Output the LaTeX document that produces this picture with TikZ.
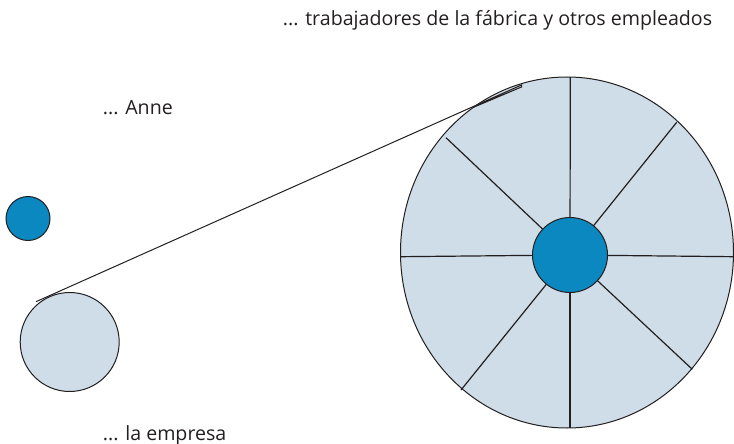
\documentclass[tikz,border=0pt]{standalone}
\usepackage{fontspec}
\setmainfont{Open Sans}
\usetikzlibrary{shapes.geometric}
\definecolor{darkblue}{HTML}{0A88BF}
\definecolor{lightblue}{HTML}{CEDDE7}
\definecolor{edge}{HTML}{231F20}
\tikzset{
  disc/.style={circle, draw=edge, line width=1pt, inner sep=0pt, fill=darkblue},
  lightdisc/.style={circle, draw=edge, line width=1pt, inner sep=0pt, fill=lightblue},
  spoke/.style={draw=edge, line width=1.2pt},
  label/.style={anchor=base west, inner sep=0pt, font=\fontsize{19.6}{23}\selectfont, text=edge},
  connector/.style={draw=edge, line width=1pt}
}
\begin{document}
\begin{tikzpicture}[x=1pt,y=-1pt]
\useasboundingbox (0,0) rectangle (734,444);
% labels
\node[label] (ttop) at (282.7,25.7) {... trabajadores de la fábrica y otros empleados};
\node[label] (tanne) at (102.7,114.5) {... Anne};
\node[label] (temp) at (102.7,440.5) {... la empresa};
% small discs
\node[disc, minimum size=44pt] (anne) at (28,218.5) {};
\node[lightdisc, minimum size=99pt] (empresa) at (69.7,342) {};
% big wheel
\node[ellipse, draw=edge, line width=1pt, fill=lightblue, inner sep=0pt,
      minimum width=333pt, minimum height=351pt] (wheel) at (567,252.5) {};
\coordinate (hc) at (570,255);
\coordinate (s1) at (570.3,77);
\coordinate (s2) at (676.7,122.3);
\coordinate (s3) at (734,256.7);
\coordinate (s4) at (692.3,369.3);
\coordinate (s5) at (570,428);
\coordinate (s6) at (461,390);
\coordinate (s7) at (400.7,256.7);
\coordinate (s8) at (446,137.7);
\foreach \s in {s1,s2,s3,s4,s5,s6,s7,s8} { \path[spoke] (hc) -- (\s); }
\node[disc, minimum size=75pt] (hub) at (hc) {};
% connector
\coordinate (c1) at (36,301.7);
\coordinate (c2) at (521.5,85);
\coordinate (c3) at (521.5,87);
\coordinate (c4) at (473,107.5);
\path[connector, line join=miter] (c1) -- (c2) -- (c3) -- (c4);
\end{tikzpicture}
\end{document}
